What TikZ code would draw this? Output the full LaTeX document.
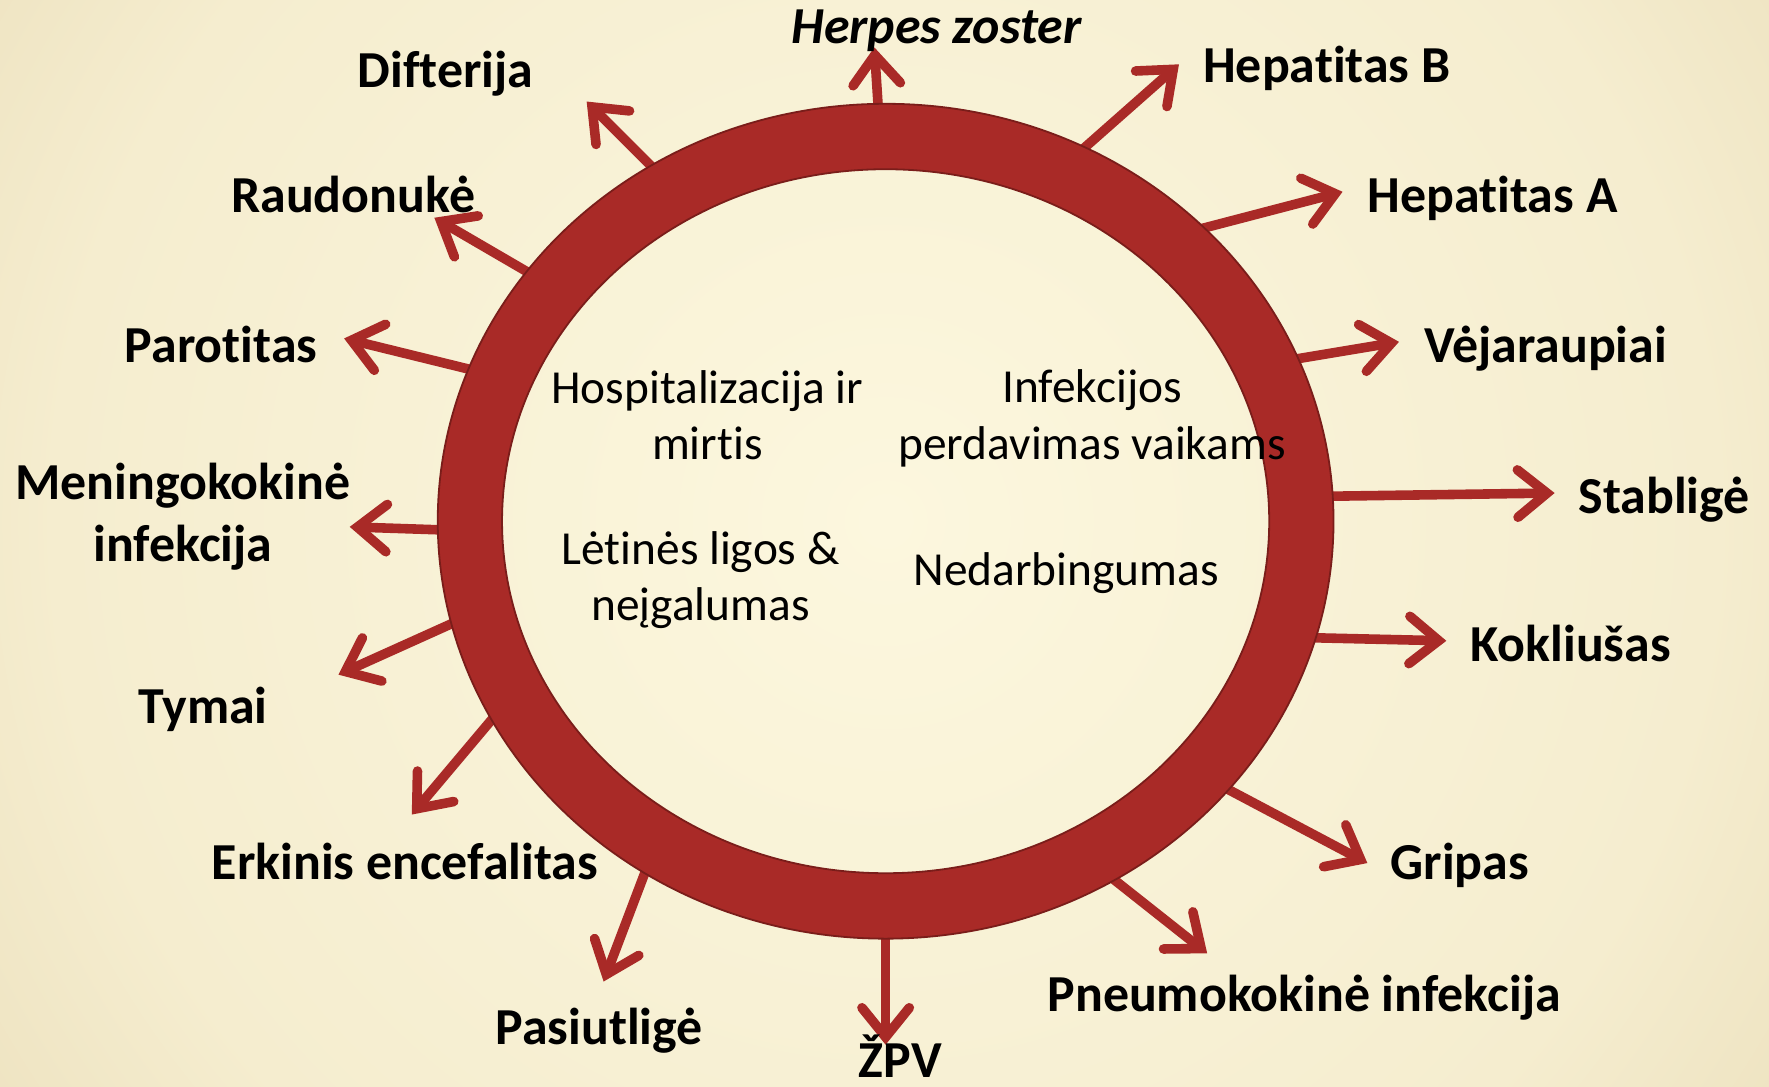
\documentclass[tikz,border=0pt]{standalone}
\usepackage{fontspec}
\setmainfont{Carlito}[Ligatures=CommonOff]
\usetikzlibrary{arrows.meta}
\definecolor{ringred}{HTML}{A92A27}
\definecolor{ringedge}{HTML}{7A1D1A}
\definecolor{bgin}{HTML}{FCF7DE}
\definecolor{bgmidA}{HTML}{F5EDCF}
\definecolor{bgmidB}{HTML}{EEE3C1}
\definecolor{bgmidC}{HTML}{E5D6AE}
\definecolor{bgout}{HTML}{DBC79B}
\pgfdeclareradialshading{bgshade}{\pgfpoint{0bp}{0bp}}{color(0bp)=(bgin); color(20bp)=(bgmidA); color(26bp)=(bgmidB); color(34bp)=(bgmidC); color(41bp)=(bgout); color(71bp)=(bgout)}
\begin{document}
\begin{tikzpicture}[x=1pt,y=-1pt,
  lbl/.style={font=\fontsize{46}{55}\selectfont\bfseries, inner sep=0pt, align=center},
  inr/.style={font=\fontsize{42}{50}\selectfont, inner sep=0pt, align=center},
  vec/.style={draw=ringred, line width=8.5pt, line cap=round,
    -{Straight Barb[length=26pt,width=42pt,line cap=round,line join=miter]}}]
\useasboundingbox (0,0) rectangle (1568,963);
\begin{scope}
  \clip (0,0) rectangle (1568,963);
  \shade[shading=bgshade] (-135,-458) rectangle (1705,1382);
\end{scope}
\coordinate (c) at (785,462);
% arrow start points (under the ring) and tips
\coordinate (s1) at (779,104);   \coordinate (t1) at (775,42);
\coordinate (s2) at (586,156);   \coordinate (t2) at (520,90);
\coordinate (s3) at (476,246);   \coordinate (t3) at (385,193);
\coordinate (s4) at (427,330);   \coordinate (t4) at (305,300);
\coordinate (s5) at (401,470);   \coordinate (t5) at (310,467);
\coordinate (s6) at (411,548);   \coordinate (t6) at (300,598);
\coordinate (s7) at (445,627);   \coordinate (t7) at (365,722);
\coordinate (s8) at (576,762);   \coordinate (t8) at (535,870);
\coordinate (s9) at (785,820);   \coordinate (t9) at (785,926);
\coordinate (s10) at (979,773);  \coordinate (t10) at (1070,845);
\coordinate (s11) at (1074,692); \coordinate (t11) at (1212,765);
\coordinate (s12) at (1151,565); \coordinate (t12) at (1282,568);
\coordinate (s13) at (1168,440); \coordinate (t13) at (1378,437);
\coordinate (s14) at (1138,320); \coordinate (t14) at (1240,303);
\coordinate (s15) at (1056,205); \coordinate (t15) at (1190,170);
\coordinate (s16) at (951,140);  \coordinate (t16) at (1045,57);
\foreach \i in {1,...,16} { \draw[vec] (s\i) -- (t\i); }
% ring
\fill[ringred, even odd rule] (c) ellipse [x radius=397, y radius=370]
      (c) ellipse [x radius=340, y radius=312];
\draw[ringedge, line width=1.6pt] (c) ellipse [x radius=397, y radius=370];
\draw[ringedge, line width=1.6pt] (c) ellipse [x radius=340, y radius=312];
% outer labels
\node[lbl, anchor=base, font=\fontsize{46}{55}\selectfont\bfseries\itshape] (hz) at (830,39) {Herpes zoster};
\node[lbl, anchor=base] (dif) at (395,78) {Difterija};
\node[lbl, anchor=base] (hepb) at (1176,73) {Hepatitas B};
\node[lbl, anchor=base] (rau) at (313,188) {Raudonukė};
\node[lbl, anchor=base] (hepa) at (1323,188) {Hepatitas A};
\node[lbl, anchor=base] (par) at (196,321) {Parotitas};
\node[lbl, anchor=base] (vej) at (1370,321) {Vėjaraupiai};
\node[lbl] (men) at (162,458) {Meningokokinė\\infekcija};
\node[lbl, anchor=base] (stab) at (1475,455) {Stabligė};
\node[lbl, anchor=base] (tym) at (180,641) {Tymai};
\node[lbl, anchor=base] (kok) at (1392,586) {Kokliušas};
\node[lbl, anchor=base] (erk) at (359,780) {Erkinis encefalitas};
\node[lbl, anchor=base] (gri) at (1294,780) {Gripas};
\node[lbl, anchor=base] (pas) at (531,926) {Pasiutligė};
\node[lbl, anchor=base] (pneu) at (1156,897) {Pneumokokinė infekcija};
\node[lbl, anchor=base] (zpv) at (798,955) {ŽPV};
% inner texts
\node[inr] (hosp) at (627,368) {Hospitalizacija ir\\mirtis};
\node[inr] (inf) at (968,371) {Infekcijos\\perdavimas vaikams};
\node[inr] (let) at (621,514) {Lėtinės ligos \&\\neįgalumas};
\node[inr, anchor=base] (ned) at (945,519) {Nedarbingumas};
\end{tikzpicture}
\end{document}
